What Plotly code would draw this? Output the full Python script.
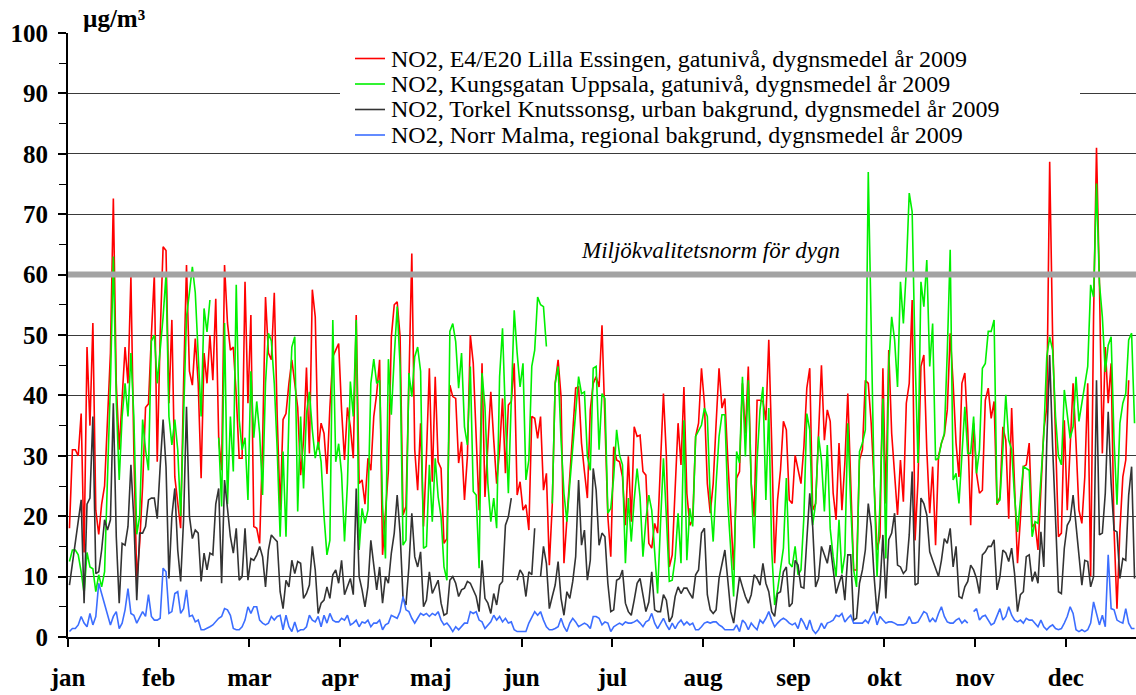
import numpy as np
import plotly.graph_objects as go

# ---------------- data (daily means 2009, µg/m³) ----------------
month_labels = ["jan", "feb", "mar", "apr", "maj", "jun", "jul", "aug", "sep", "okt", "nov", "dec"]
month_tick_days = [0, 31, 62, 93, 124, 155, 186, 217, 248, 279, 310, 341]

series_names = [
    "NO2, E4/E20 Lilla Essingen, gatunivå, dygnsmedel år 2009",
    "NO2, Kungsgatan Uppsala, gatunivå, dygnsmedel år 2009",
    "NO2, Torkel Knutssonsg, urban bakgrund, dygnsmedel år 2009",
    "NO2, Norr Malma, regional bakgrund, dygnsmedel år 2009",
]
series_colors = ["#ff0000", "#00f000", "#333333", "#3c6eff"]

lilla_essingen = [
    18, 31, 31, 30, 37, 14, 48, 35, 52, 21, 17, 22, 25, 36, 47, 72.6, 42, 31, 40, 48,
    42, 59.6, 31, 9.4, 15.5, 25, 38, 38.6, 50, 60, 29, 50, 64.6, 64, 38.7, 52.5, 26.5, 22, 18, 42,
    61.6, 44, 41.7, 49.4, 42, 26.3, 47, 42, 50, 42.5, 56, 33, 27.6, 61.6, 52, 47.5, 48, 40, 29.6,
    29.6, 58.8, 38.7, 53.3, 18.3, 18, 15.5, 32, 56.3, 47, 45.9, 57, 36.5, 21, 36, 37, 42, 45.9, 42, 38,
    26.8, 32.6, 44.6, 30.4, 57.5, 53, 31, 35.4, 33.7, 27, 38, 46.4, 47.5, 48.6, 37.6, 29.3, 38, 34.8, 29.6, 53.3,
    25.4, 26, 22, 29.6, 27.6, 36.5, 40.3, 45.9, 13.6, 20, 27.6, 49.7, 55, 55.5, 49.7, 20.2, 21.6, 42, 63.5, 31,
    24.3,
    35.4, 18.3, 30, 44.5, 25.7, 43.1, 29, 27.9, 15.5, 16.3, 41.7, 39.8, 39.5, 28.8, 32.3, 22.7, 29.9, 50, 45.3, 34.3,
    21, 45.3, 23.2, 31.8, 40.6, 32.6, 25.4, 31, 39.5, 27.1, 38.4, 39, 45.3, 23.5, 25.7, 21, 21.9, 17.7, 36.5, 36.2,
    32.9, 36.5, 24.3, 27.1, 11.9, 21.9, 42, 45.9, 39.8, 12.2, 19.9, 27.6, 35.4, 41.2, 41.4, 32.1, 27.4, 23, 37.6, 42,
    43.1, 41.4,
    51.6, 36, 19.9, 13.3, 31.5, 29.3, 29, 26.5, 18.5, 29.9, 19.1, 34.8, 33.2, 33.4, 27.4, 26.8, 15.5, 14.7, 18.8, 17.2,
    28.2, 40.3, 29.9, 11.6, 13.6, 23.8, 35.4, 28.5, 41.4, 23.8, 18.5, 19.4, 33.2, 35.4, 44.5, 38.7, 25.4, 20.5, 25.4, 35.4,
    44.5, 37.9, 39.5, 29.3, 19.9, 11.1, 26.3, 27.4, 42, 33.7, 44.8, 25.4, 19.9, 39.2, 39.2, 39, 35.9, 49.2, 32.1, 12.2,
    22.7,
    27.6, 35.7, 34.3, 22.7, 22.1, 30.1, 27.6, 25.4, 31.5, 41.2, 44.5, 21, 22.1, 32.6, 45, 32.6, 37.6, 35.7, 23.8, 19.4,
    32.1, 21, 28.8, 40.3, 25.4, 11.1, 11.1, 29.3, 31, 42.5, 42, 35.4, 25.4, 14.4, 16.6, 44.5, 22.1, 47.5, 33.7, 27.6,
    20.2, 29.3, 22.4, 38.7, 42, 55.8, 16, 26, 44.8, 46.7, 31, 20.5, 28.2, 15.2, 29.9, 32.1, 33.5, 37.6, 50.3, 42,
    32.1, 26.5,
    42, 43.7, 34.3, 18.5, 35.4, 27.1, 23.8, 24.3, 39.2, 41.2, 36.2, 39, 21.9, 23.2, 34.8, 32.6, 19.6, 37.9, 25.4, 12.2,
    19.6, 28.2, 28.5, 32.1, 18.2, 18.8, 14.4, 25.4, 34.3, 38, 78.7, 49.7, 31, 16.6, 17.2, 35.9, 21, 32.6, 42, 32.1,
    21, 18.8, 26.5, 42, 10, 53, 81, 58.6, 30.4, 48, 38.7, 45.3, 17.7, 4.7, 17.7, 26.5, 29.3, 42.5,
    None, None,
]

kungsgatan_uppsala = [
    12.5, 14.4, 14.4, 13.6, 10.8, 7.2, 14, 11.6, 11.3, 7.5, 10.3, 8.3, 10.8, 25, 42, 63, 39, 26, 36.5, 42,
    36.5, 47, 36.5, 17, 20, 36, 31, 27.6, 49, 50, 42, 47.5, 53, 60, 36.5, 31.8, 36, 31, 20, 36.5,
    53, 57, 61.3, 57, 47.5, 36.5, 54.4, 50.5, 55.8, None, None, 33, 21.6, 52, 22, 36.5, 27.4, 58.3, 36,
    31, 33, 22.7, 44, 33, 39, 33.7, 23.5, 42, 50.3, 49, 42, 31, 16.6, 30.7, 16.6, 36.5, 48, 49.7, 20.8,
    36.5, 24.6, 37, 40.6, 34.3, 29.6, 32.3, 29, 20, 13.6, 16, 52.5, 29, 32, 27, 15.8, 25.4, 42.3, 36.5, 52.5,
    14.4, 21.3, 18.8, 21, 42, 46, 42, 42.5, 21.9, 13, 46, 36.8, 46.4, 54.7, 44.8, 15.2, 16, 43.7, 39.8, 46.4,
    48,
    44, 14.7, 15, 28.5, 19.1, 29.6, 23.2, 19.9, 11.6, 9.4, 50.6, 51.9, 48.9, 41.2, 47, 34.8, 31.8, 44.8, 24.1, 23.5,
    11.4, 43.7, 38.1, 25.4, 19.1, 23, 18, 43.1, 51.1, 36.5, 23.8, 39.2, 54.1, 47, 41.4, 45.3, 26, 29.3, 44.8, 47.5,
    56.3, 55, 54.7, 48.1, None, 22.1, 42, 44.8, 32.6, 23.8, 19.1, 25.4, 31, 37, 43.1, 40.3, 40.6, 29.9, 27.6, 44.5,
    44.8, 31,
    40.3, 39.5, 20.5, 21.3, 26.5, 34.3, 30.1, 28.5, 12.2, 23, 15.8, 22.7, 27.9, 23.2, 13.3, 19.4, 23.5, 21, 13.6, 7.2,
    18.8, 29.6, 19.9, 9.2, 9.4, 13, 20.5, 12.2, 35.9, 12.7, 21.3, 18.3, 33.2, 34.3, 35.1, 37.9, 36.5, 22.7, 15.8, 25.4,
    33.2, 36.8, 36.8, 22.1, 14.4, 6.7, 30.7, 28.8, 43.1, 29.9, 42.5, 25.2, 14.7, 29.3, 37.6, 41.4, 22.7, 37.9, 14.4, 5.3,
    7.8,
    11.1, 14.7, 26.3, 12.2, 11.6, 15, 10.3, 11.1, 19.9, 37, 34.3, 18.5, 22.1, 33.2, 29.3, 20.8, 31.8, 17.9, 13.3, 10,
    19.4, 10.5, 13.6, 35.4, 21.9, 11.1, 8.3, 30.7, 32.1, 34.3, 77, 47.5, 25.4, 10, 22.1, 39.5, 13, 45, 53, 49.2,
    41.4, 58.8, 51.9, 60.8, 73.5, 70.4, 46.4, 28.8, 58.8, 54.7, 62.4, 44.8, 51.9, 29.3, 29.6, 32.1, 33.7, 47.2, 64.1, 26,
    27.1, 22.1,
    29.3, 38.1, 30.4, 30.4, 36.5, 27.1, 31, 44.5, 45.3, 50.6, 50.6, 52.5, 22.1, 22.7, 31, 40.1, 32.6, 31, 23.2, 17.4,
    22.7, 28.2, 27.9, 27.6, 16.6, 19.1, 18.8, 25.4, 33.7, 46.4, 49.7, 47.5, 36.5, 29.9, 28.5, 40.9, 37, 32.9, 34.8, 43.1,
    35.7, 38.7, 42, 44.8, 58.3, 56.3, 75.1, 58.6, 53, 43.9, 48.3, 49.7, 32.6, 21.9, 35.4, 38.7, 40.3, 49.2, 50.3, 35.4,
]

torkel_knutssonsg = [
    8.6, 12.2, 15.5, 19.4, 22.7, 5.6, 22, 23, 36.5, 10.5, 10.8, 14.4, 19.4, 17.7, 19.4, 38.7, 16.6, 5.6, 15.5, 15.2,
    18.3, 28.5, 19.4, 6.1, 17.2, 17.2, 18.3, 22.7, 23, 23, 19.6, 28.2, 36, 28.2, 9.7, 20, 24.6, 14.4, 9.2, 19.4,
    38.1, 20, 16.3, 17.7, 17.2, 9.2, 13.9, 11.1, 13.9, 13.6, 22, 24.6, 8.9, 26, 21.6, 16.6, 13.9, 18, 9.4,
    10, 18, 9.4, 13, 12.7, 13.6, 15, 13.3, 8.3, 14.4, 16.9, 16.3, 15.8, 7.5, 4.7, 9.4, 8.3, 12.7, 10.5, 12.5,
    12.2, 6.4, 7.2, 8.6, 15, 11.1, 3.9, 5.6, 6.1, 8.3, 6.4, 10.3, 11.1, 8.9, 12.7, 7, 8.3, 9.7, 7, 24.6,
    10, 7.8, 5, 8.3, 16, 11.6, 7.8, 11.6, 5.6, 10, 8.9, 13.9, 17.2, 23.5, 17.2, 6.4, 5.3, 11.6, 20.5, 13.3,
    11.6,
    14.1, 5, 6.1, 10.8, 7.2, 8.3, 9.4, 5.6, 3.6, 3.9, 9.4, 10, 8.9, 6.7, 7.8, 8.1, 9.2, 8.9, 7.8, 6.7,
    4.2, 12.7, 6.4, 5.6, 3.9, 7.2, 5.3, 8.6, 9.2, 18.5, 19.9, 23, None, 9.4, 11.1, 10.3, 6.7, 10.8, 10.3, 18,
    None, 10, 15, 12.2, 4.7, 6.7, 8.6, 12.5, 6.4, 3.6, 7.5, 6.4, 9.2, 13.3, 26, 15.2, 17.7, 9.4, 12.7, 27.9,
    24.3, 15.2,
    17.2, 16.6, 8.9, 4.2, 4.5, 9.4, 9.7, 11.1, 5.6, 4.2, 3.6, 6.1, 8.9, 9.7, 6.7, 4.2, 5.8, 10.8, 4.5, 4.2,
    4.2, 7, 6.1, 2.5, 3.4, 6.7, 8.3, 7.2, 8.1, 8.1, 7.2, 6.4, 10.3, 11.1, 17.2, 18, 7, 4.5, 3.9, 4.5,
    9.7, 11.9, 14.4, 9.4, 4.2, 2.3, 6.7, 10, 8.3, 6.7, 5.6, 7, 10.3, 9.7, 8.6, 12.2, 8.9, 7.5, 4.2, 3.4,
    7.2,
    7.5, 10.8, 11.6, 5, 5.6, 12.7, 11.9, 8.3, 8.1, 16.1, 23.8, 18.3, 8.3, 9.7, 15, 13.6, 12.2, 15.2, 11.4, 7.2,
    8.9, 10.3, 6.1, 13.6, 13.6, 2.8, 3.1, 8.9, 11.1, 14.4, 22.1, 18.3, 10, 3.9, 8.3, 16.9, 6.4, 16.1, 17.2, 20.5,
    11.9, 11.6, 10.5, 11.1, 16.9, 27.4, 8.6, 8.9, 23, 22.1, 20.2, 14.1, 12.7, 11.4, 10, 12.7, 16.3, 15.5, 18, 11.6,
    15, 6.7,
    6.4, 8.3, 9.2, 11.9, 11.1, 9.7, 7.2, 13.6, 14.1, 15, 15, 16.1, 7.8, 10, 14.4, 13.9, 12.5, 14.7, 10.5, 4.2,
    7, 7.5, 13.3, 13.6, 9.2, 10.8, 8.9, 17.4, 11.6, 32.1, 46.7, 31.5, 19.9, 7.5, 7.2, 14.7, 18.5, 19.4, 23.5, 18.8,
    14.4, 8.6, 12.7, 12.5, 8.3, 10, 42.5, 16.9, 17.2, 23.8, 37.3, 25.4, 17.7, 17.4, 9.7, 13, 12.7, 23.5, 28.2, 9.7,
]

norr_malma = [
    0.9, 1.4, 1.4, 2, 3.4, 2.3, 1.7, 3.9, 2, 3.4, 8.9, 7.2, 5.6, 3.6, 2, 3.4, 4.2, 1.4, 2.3, 4.5,
    8, 3.9, 3.6, 2.3, 3.4, 4.2, 3.4, 7, 3.4, 2.8, 2.8, 3.1, 11.4, 10.8, 3.9, 4.2, 7.2, 7.5, 3.9, 4.7,
    7.8, 3.4, 3.6, 2.5, 2.8, 1.2, 1.2, 1.4, 1.7, 2, 2.5, 3.1, 3.4, 4.7, 4.5, 3.6, 1.4, 1.2, 1.2,
    1.7, 2.8, 5, 3.9, 5, 5, 2.8, 2.3, 2, 2.3, 3.4, 2.8, 3.4, 3.6, 1.2, 3.6, 1.7, 0.9, 2.5, 0.9,
    1.2, 1.2, 1.7, 3.6, 2.8, 2.5, 3.4, 1.7, 3.6, 2.3, 3.9, 2.8, 2.5, 2.5, 3.1, 2.8, 3.6, 2, 2.3, 2.8,
    1.7, 2.5, 2.3, 2.8, 1.7, 2.3, 2.3, 2.8, 1.2, 2, 2.3, 3.6, 3.4, 3.1, 4.2, 6.7, 4.5, 4.2, 3.1, 2.3,
    3.1,
    3.9, 3.6, 3.9, 3.4, 3.9, 3.6, 4.2, 2.8, 2, 2.3, 1.7, 0.9, 1.7, 1.2, 1.7, 2.3, 2.3, 4.2, 3.9, 4.2,
    2.8, 2.5, 1.4, 2, 2.5, 3.6, 2.8, 3.4, 2.5, 3.1, 2.3, 2.5, 1.2, 0.9, 0.9, 0.9, 0.9, 2.3, 3.4, 4.2,
    3.6, 4.2, 2.8, 1.7, 1.2, 1.2, 1.4, 1.7, 3.1, 1.7, 0.9, 2.3, 3.1, 2.5, 1.7, 2, 2.3, 2, 1.4, 3.4,
    3.4, 3.1,
    2, 2.5, 2.3, 0.9, 1.7, 2, 2.3, 2, 2.5, 2.3, 2.3, 2.5, 2.8, 2.3, 1.7, 2.5, 2.8, 3.9, 2.3, 1.4,
    2.3, 3.1, 2, 1.2, 2.3, 1.4, 2.3, 2.8, 2, 2.5, 2, 2.3, 1.2, 1.2, 1.7, 2.3, 2.5, 2.3, 2.5, 2.5,
    2, 1.7, 1.2, 1.2, 1.2, 1.2, 2, 0.9, 2.8, 2.3, 1.2, 2.3, 1.7, 1.2, 2.8, 2.3, 3.1, 4.2, 2.8, 1.7,
    2.3,
    2.8, 3.1, 2.8, 2.3, 2, 2.3, 1.4, 3.1, 2.3, 1.2, 2.8, 1.2, 0.6, 1.2, 2.3, 1.4, 2.3, 2.5, 2.8, 3.6,
    3.4, 3.9, 2.5, 3.1, 3.6, 2.3, 2.3, 2.3, 2.3, 2.8, 2.3, 3.4, 4.2, 2, 3.4, 2.8, 2.3, 2.5, 2.5, 2.3,
    2, 2, 2, 2.3, 3.4, 2.3, 2.3, 2.5, 3.4, 4.2, 3.9, 2.5, 3.1, 2.5, 3.9, 5, 3.4, 2.5, 2.3, 2.3,
    2.8, 3.1,
    2.3, 2.8, 2.3, None, 4.2, 4.7, 2.8, 3.4, 3.6, 2.8, 2, 2.3, 3.6, 4.7, 2.8, 3.4, 5, 3.6, 2.8, 2.5,
    2.8, 2.3, 3.1, 2.8, 2.8, 2.3, 1.7, 2.8, 1.7, 1.2, 1.7, 2, 1.4, 1.2, 1.4, 2.3, 3.4, 5, 3.9, 1.2,
    0.9, 1.2, 0.9, 1.2, 2.3, 5.8, 3.9, 2, 3.6, 1.7, 13.6, 4.7, 4.5, 2.8, 2.5, 2.3, 4.7, 2.3, 1.4, 1.4,
]

norm_value = 60
norm_label = "Miljökvalitetsnorm för dygn"
y_unit = "µg/m³"

all_series = [lilla_essingen, kungsgatan_uppsala, torkel_knutssonsg, norr_malma]

# ---------------- figure ----------------
FONT = "Liberation Serif"
fig = go.Figure()
for name, color, vals in zip(series_names, series_colors, all_series):
    days = np.arange(len(vals)) + 0.5
    fig.add_trace(go.Scatter(x=days, y=vals, mode="lines", name=name,
                             line=dict(color=color, width=1.6), connectgaps=False))

# plot geometry helpers (paper coordinates)
W, H = 1136, 695
ML, MR, MT, MB = 68, 0, 33, 58
PW, PH = W - ML - MR, H - MT - MB


def px(xp):
    return (xp - ML) / PW


def py(yp):
    return (H - MB - yp) / PH


shapes = []
# white legend box hiding gridlines
shapes.append(dict(type="rect", xref="paper", yref="paper", x0=px(340), x1=px(1080),
                   y0=py(149), y1=py(40), fillcolor="white", line=dict(width=0), layer="above"))
# norm line
shapes.append(dict(type="line", xref="paper", yref="y", x0=0, x1=1, y0=norm_value, y1=norm_value,
                   line=dict(color="#a3a3a3", width=6), layer="above"))

annotations = []
legend_rows = [58.5, 84, 109.5, 135]
for name, color, yrow in zip(series_names, series_colors, legend_rows):
    shapes.append(dict(type="line", xref="paper", yref="paper", x0=px(355), x1=px(385),
                       y0=py(yrow), y1=py(yrow), line=dict(color=color, width=1.6), layer="above"))
    annotations.append(dict(xref="paper", yref="paper", x=px(389), y=py(yrow), text=name,
                            showarrow=False, xanchor="left", yanchor="middle",
                            font=dict(family=FONT, size=24, color="black")))

annotations.append(dict(xref="paper", yref="y", x=px(842), y=norm_value + 1.6, text=norm_label,
                        showarrow=False, xanchor="right", yanchor="bottom",
                        font=dict(family=FONT, size=23, color="black", style="italic")))
annotations.append(dict(xref="paper", yref="paper", x=px(81), y=py(19), text=y_unit,
                        showarrow=False, xanchor="left", yanchor="middle",
                        font=dict(family=FONT, size=25, color="black", weight="bold")))

fig.update_layout(
    width=W, height=H,
    margin=dict(l=ML, r=MR, t=MT, b=MB, pad=0),
    paper_bgcolor="white", plot_bgcolor="white",
    showlegend=False,
    font=dict(family=FONT, color="black"),
    shapes=shapes, annotations=annotations,
)
fig.update_xaxes(
    range=[0, 365], tickmode="array", tickvals=month_tick_days, ticktext=month_labels,
    ticks="outside", ticklen=8, tickwidth=1.5, tickcolor="black",
    showline=True, linewidth=2, linecolor="black", showgrid=False, zeroline=False,
    tickfont=dict(family=FONT, size=25, color="black", weight="bold"), ticklabelstandoff=9,
)
fig.update_yaxes(
    range=[0, 100], dtick=10, tick0=0,
    ticks="outside", ticklen=8, tickwidth=1.5, tickcolor="black",
    showline=True, linewidth=2, linecolor="black",
    showgrid=True, gridcolor="#3a3a3a", gridwidth=1, zeroline=False,
    minor=dict(dtick=5, ticks="outside", ticklen=7, tickcolor="black", tickwidth=1.2, showgrid=False),
    tickfont=dict(family=FONT, size=25, color="black", weight="bold"), ticklabelstandoff=5,
)

fig.write_html("out.html", config={"displayModeBar": False},
               post_script="document.body.style.margin='0';document.body.style.overflow='hidden';")
